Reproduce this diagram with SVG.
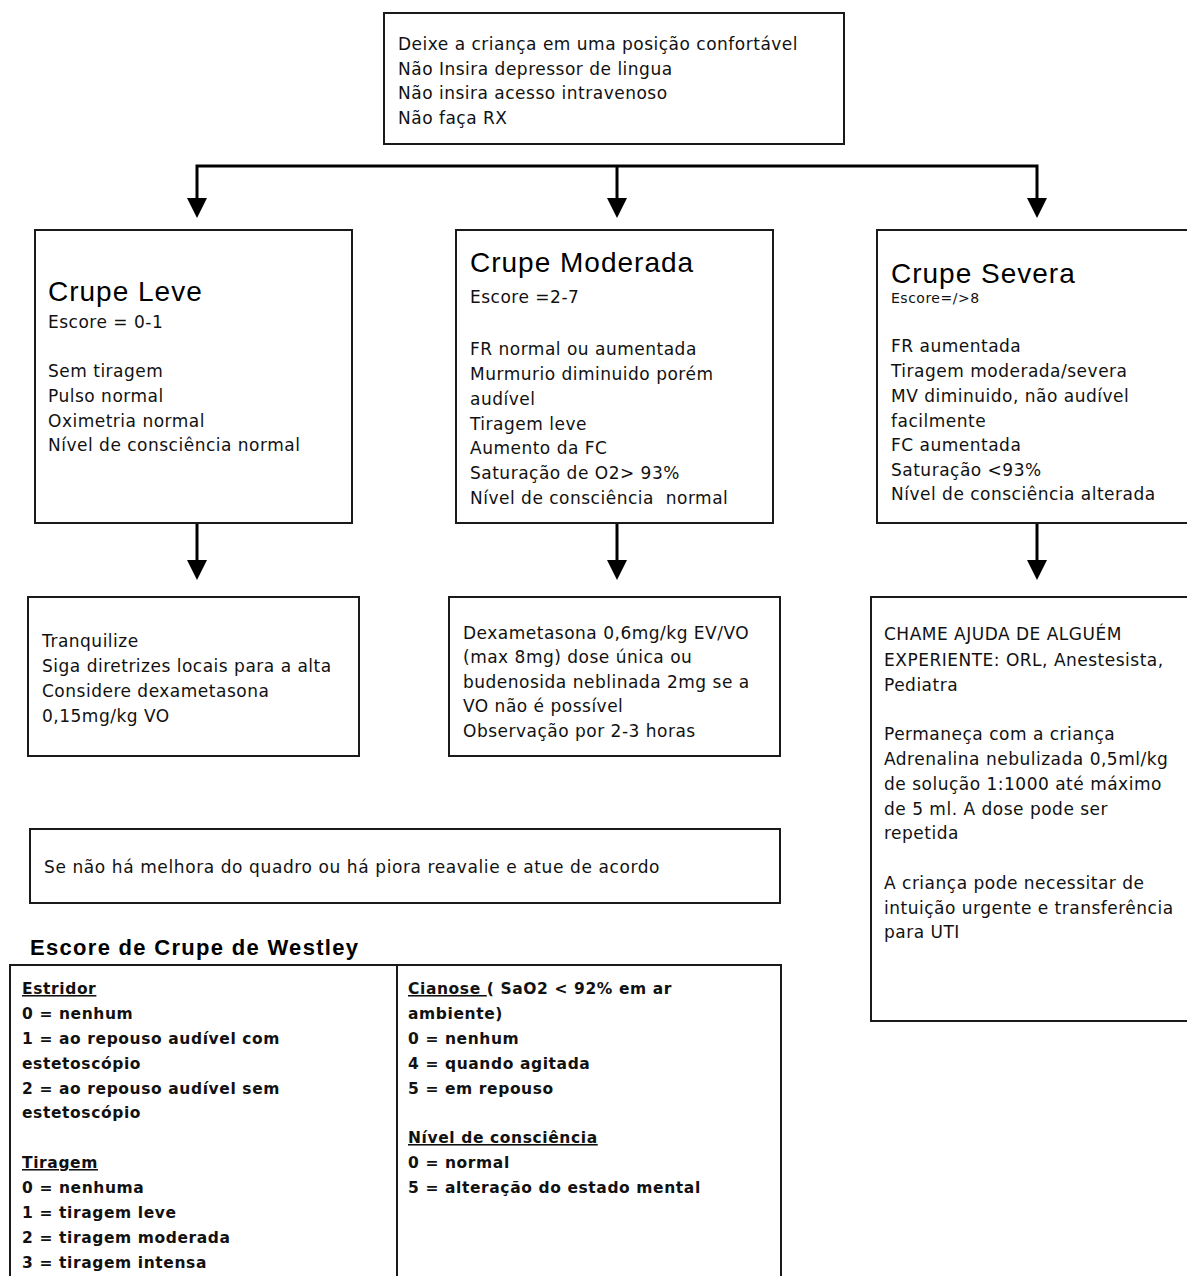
<svg xmlns="http://www.w3.org/2000/svg" width="1187" height="1276" viewBox="0 0 1187 1276">
<style>
.box{fill:#fff;stroke:#1a1a1a;stroke-width:2}
.t{font-family:"DejaVu Sans","Liberation Sans",sans-serif;font-size:17px;letter-spacing:0.5px;fill:#111}
.h{font-family:"Liberation Sans",Arial,sans-serif;font-size:28px;letter-spacing:1px;fill:#000}
.tb{font-family:"DejaVu Sans","Liberation Sans",sans-serif;font-weight:bold;font-size:15.5px;letter-spacing:0.6px;fill:#111}
.wh{font-family:"Liberation Sans",Arial,sans-serif;font-weight:bold;font-size:22px;letter-spacing:1.3px;fill:#000}
.conn path{fill:none;stroke:#000;stroke-width:3}
.u{text-decoration:underline}
</style>
<defs>
<marker id="ah" viewBox="0 0 20 20" refX="1" refY="10" markerWidth="20" markerHeight="20" markerUnits="userSpaceOnUse" orient="auto-start-reverse">
<path d="M0,0 L20,10 L0,20 z" fill="#000"/>
</marker>
</defs>
<rect width="1187" height="1276" fill="#fff"/>

<g id="conectores" class="conn">
<path d="M197 199 V166 H1037 V199" marker-start="url(#ah)" marker-end="url(#ah)"/>
<path d="M617 166 V199" marker-end="url(#ah)"/>
<path d="M197 523 V561" marker-end="url(#ah)"/>
<path d="M617 523 V561" marker-end="url(#ah)"/>
<path d="M1037 523 V561" marker-end="url(#ah)"/>
</g>

<g id="inicio">
<rect class="box" x="384" y="13" width="460" height="131"/>
<text class="t" x="398" y="50">Deixe a criança em uma posição confortável</text>
<text class="t" x="398" y="75">Não Insira depressor de lingua</text>
<text class="t" x="398" y="99">Não insira acesso intravenoso</text>
<text class="t" x="398" y="124">Não faça RX</text>
</g>

<g id="crupe-leve">
<rect class="box" x="35" y="230" width="317" height="293"/>
<text class="h" x="48" y="301">Crupe Leve</text>
<text class="t" x="48" y="328">Escore = 0-1</text>
<text class="t" x="48" y="377">Sem tiragem</text>
<text class="t" x="48" y="402">Pulso normal</text>
<text class="t" x="48" y="427">Oximetria normal</text>
<text class="t" x="48" y="451">Nível de consciência normal</text>
</g>

<g id="crupe-moderada">
<rect class="box" x="456" y="230" width="317" height="293"/>
<text class="h" x="470" y="272">Crupe Moderada</text>
<text class="t" x="470" y="303">Escore =2-7</text>
<text class="t" x="470" y="355">FR normal ou aumentada</text>
<text class="t" x="470" y="380">Murmurio diminuido porém</text>
<text class="t" x="470" y="405">audível</text>
<text class="t" x="470" y="430">Tiragem leve</text>
<text class="t" x="470" y="454">Aumento da FC</text>
<text class="t" x="470" y="479">Saturação de O2&gt; 93%</text>
<text class="t" x="470" y="504" xml:space="preserve">Nível de consciência  normal</text>
</g>

<g id="crupe-severa">
<rect class="box" x="877" y="230" width="330" height="293"/>
<text class="h" x="891" y="283">Crupe Severa</text>
<text class="t" x="891" y="303" style="font-size:14px">Escore=/&gt;8</text>
<text class="t" x="891" y="352">FR aumentada</text>
<text class="t" x="891" y="377">Tiragem moderada/severa</text>
<text class="t" x="891" y="402">MV diminuido, não audível</text>
<text class="t" x="891" y="427">facilmente</text>
<text class="t" x="891" y="451">FC aumentada</text>
<text class="t" x="891" y="476">Saturação &lt;93%</text>
<text class="t" x="891" y="500">Nível de consciência alterada</text>
</g>

<g id="conduta-leve">
<rect class="box" x="28" y="597" width="331" height="159"/>
<text class="t" x="42" y="647">Tranquilize</text>
<text class="t" x="42" y="672">Siga diretrizes locais para a alta</text>
<text class="t" x="42" y="697">Considere dexametasona</text>
<text class="t" x="42" y="722">0,15mg/kg VO</text>
</g>

<g id="conduta-moderada">
<rect class="box" x="449" y="597" width="331" height="159"/>
<text class="t" x="463" y="639">Dexametasona 0,6mg/kg EV/VO</text>
<text class="t" x="463" y="663">(max 8mg) dose única ou</text>
<text class="t" x="463" y="688">budenosida neblinada 2mg se a</text>
<text class="t" x="463" y="712">VO não é possível</text>
<text class="t" x="463" y="737">Observação por 2-3 horas</text>
</g>

<g id="conduta-severa">
<rect class="box" x="871" y="597" width="336" height="424"/>
<text class="t" x="884" y="640">CHAME AJUDA DE ALGUÉM</text>
<text class="t" x="884" y="666">EXPERIENTE: ORL, Anestesista,</text>
<text class="t" x="884" y="691">Pediatra</text>
<text class="t" x="884" y="740">Permaneça com a criança</text>
<text class="t" x="884" y="765">Adrenalina nebulizada 0,5ml/kg</text>
<text class="t" x="884" y="790">de solução 1:1000 até máximo</text>
<text class="t" x="884" y="815">de 5 ml. A dose pode ser</text>
<text class="t" x="884" y="839">repetida</text>
<text class="t" x="884" y="889">A criança pode necessitar de</text>
<text class="t" x="884" y="914">intuição urgente e transferência</text>
<text class="t" x="884" y="938">para UTI</text>
</g>

<g id="reavaliar">
<rect class="box" x="30" y="829" width="750" height="74"/>
<text class="t" x="44" y="873" textLength="616" lengthAdjust="spacing">Se não há melhora do quadro ou há piora reavalie e atue de acordo</text>
</g>

<g id="escore-westley">
<text class="wh" x="30" y="955">Escore de Crupe de Westley</text>
<rect class="box" x="10" y="965" width="771" height="330"/>
<line x1="397" y1="965" x2="397" y2="1295" stroke="#1a1a1a" stroke-width="2"/>
<text class="tb" x="22" y="994"><tspan class="u">Estridor</tspan></text>
<text class="tb" x="22" y="1019">0 = nenhum</text>
<text class="tb" x="22" y="1044">1 = ao repouso audível com</text>
<text class="tb" x="22" y="1069">estetoscópio</text>
<text class="tb" x="22" y="1094">2 = ao repouso audível sem</text>
<text class="tb" x="22" y="1118">estetoscópio</text>
<text class="tb" x="22" y="1168"><tspan class="u">Tiragem</tspan></text>
<text class="tb" x="22" y="1193">0 = nenhuma</text>
<text class="tb" x="22" y="1218">1 = tiragem leve</text>
<text class="tb" x="22" y="1243">2 = tiragem moderada</text>
<text class="tb" x="22" y="1268">3 = tiragem intensa</text>
<text class="tb" x="408" y="994"><tspan class="u">Cianose </tspan>( SaO2 &lt; 92% em ar</text>
<text class="tb" x="408" y="1019">ambiente)</text>
<text class="tb" x="408" y="1044">0 = nenhum</text>
<text class="tb" x="408" y="1069">4 = quando agitada</text>
<text class="tb" x="408" y="1094">5 = em repouso</text>
<text class="tb" x="408" y="1143"><tspan class="u">Nível de consciência</tspan></text>
<text class="tb" x="408" y="1168">0 = normal</text>
<text class="tb" x="408" y="1193">5 = alteração do estado mental</text>
</g>
</svg>
